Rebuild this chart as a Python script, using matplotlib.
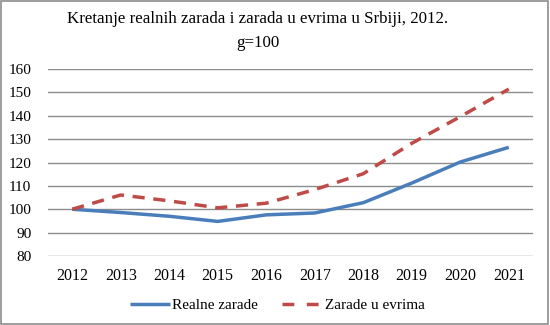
import matplotlib
matplotlib.use("Agg")
import matplotlib.pyplot as plt
from matplotlib.patches import Rectangle
from matplotlib.lines import Line2D

years = ["2012", "2013", "2014", "2015", "2016", "2017", "2018", "2019", "2020", "2021"]
realne = [100, 98.6, 97.0, 94.8, 97.6, 98.4, 102.8, 111.2, 120.2, 126.5]
evri = [100, 106.1, 103.6, 100.6, 102.6, 108.4, 115.2, 128.2, 139.6, 151.4]
yticks = [80, 90, 100, 110, 120, 130, 140, 150, 160]

plt.rcParams['font.family'] = ['Liberation Serif', 'DejaVu Serif']

BLUE = '#4A7EBB'
RED = '#BE4B48'

fig = plt.figure(figsize=(5.5, 3.25), dpi=100)
ax = fig.add_axes([48/550, 1-256/325, (533-48)/550, (256-69)/325])

x = list(range(len(years)))
ax.plot(x, realne, color=BLUE, lw=2.5, solid_capstyle='butt')
ax.plot(x, evri, color=RED, lw=2.5, ls=(0, (3.5, 2.5)), dash_capstyle='butt')

ax.set_xlim(-0.5, 9.5)
ax.set_ylim(80, 160)
ax.set_yticks(yticks)
ax.set_xticks(x)
ax.set_xticklabels(years)
ax.yaxis.grid(True, color='#8c8c8c', lw=1)
ax.set_axisbelow(True)
for s in ax.spines.values():
    s.set_visible(False)
ax.tick_params(axis='both', length=0, labelsize=11.5, colors='black')
ax.tick_params(axis='y', labelsize=11, pad=12)
ax.tick_params(axis='x', pad=9)

fig.text(258/550, 1-19/325, 'Kretanje realnih zarada i zarada u evrima u Srbiji, 2012.', ha='center', va='center', fontsize=12.2)
fig.text(258/550, 1-43/325, 'g=100', ha='center', va='center', fontsize=12.2)

handles = [Line2D([], [], color=BLUE, lw=2.5, solid_capstyle='butt'),
           Line2D([], [], color=RED, lw=2.5, ls=(0, (3.4, 3.6)), dash_capstyle='butt')]
fig.legend(handles, ['Realne zarade', 'Zarade u evrima'], loc='center',
           bbox_to_anchor=(277/550, 1-305/325), ncol=2, frameon=False, fontsize=11,
           handlelength=2.62, columnspacing=1.6, handletextpad=0.15)

fig.patches.append(Rectangle((0.002, 0.003), 0.995, 0.994, transform=fig.transFigure, fill=False,
                             edgecolor='#8c8c8c', lw=1.2))

fig.savefig('out.png', dpi=100)
